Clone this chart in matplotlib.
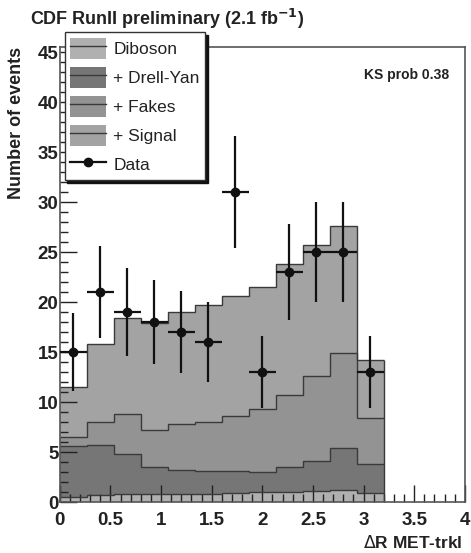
import numpy as np
import matplotlib
matplotlib.use("Agg")
import matplotlib.pyplot as plt
from matplotlib.patches import Patch
from matplotlib.lines import Line2D
from matplotlib.ticker import MultipleLocator

plt.rcParams['font.family'] = ['Liberation Sans', 'DejaVu Sans']

# 12 bins of dR(MET, track), width 4/15
bin_edges = np.linspace(0, 3.2, 13)
bin_centers = 0.5 * (bin_edges[:-1] + bin_edges[1:])

# per-component contributions
diboson  = [0.5, 0.7, 0.8, 0.8, 0.8, 0.8, 0.9, 1.0, 1.0, 1.1, 1.2, 0.9]
drellyan = [5.1, 5.0, 4.0, 2.7, 2.4, 2.3, 2.2, 2.0, 2.5, 3.0, 4.2, 2.9]
fakes    = [0.9, 2.3, 4.0, 3.7, 4.6, 4.9, 5.5, 6.3, 7.2, 8.5, 9.5, 4.6]
signal   = [5.0, 7.8, 9.6, 10.7, 11.2, 11.7, 12.0, 12.2, 13.1, 13.1, 12.7, 5.8]

data     = [15, 21, 19, 18, 17, 16, 31, 13, 23, 25, 25, 13]
data_err = [3.9, 4.6, 4.4, 4.2, 4.1, 4.0, 5.6, 3.6, 4.8, 5.0, 5.0, 3.6]

labels = ["Diboson", "+ Drell-Yan", "+ Fakes", "+ Signal"]
colors = ["#b0b0b0", "#767676", "#939393", "#a3a3a3"]
EDGE = "#3a3a3a"

fig = plt.figure(figsize=(4.71, 5.53), dpi=100)
ax = fig.add_axes([0.127, 0.092, 0.860, 0.823])

components = [diboson, drellyan, fakes, signal]
bottom = np.zeros(len(bin_centers))
for comp, col in zip(components, colors):
    top = bottom + np.array(comp)
    ax.stairs(top, bin_edges, baseline=bottom, fill=True, color=col, zorder=1)
    bottom = top
# outlines drawn on top of the fills
bottom = np.zeros(len(bin_centers))
for comp in components:
    top = bottom + np.array(comp)
    ax.stairs(top, bin_edges, baseline=None, color=EDGE, lw=1.0, zorder=2)
    bottom = top
ax.vlines([bin_edges[-1]], 0, bottom[-1], color=EDGE, lw=1.0, zorder=2)

half_w = (bin_edges[1] - bin_edges[0]) / 2
ax.errorbar(bin_centers, data, yerr=data_err, xerr=half_w, fmt='o', color='#111111',
            ms=6, elinewidth=1.6, capsize=0, zorder=4)

ax.set_xlim(0, 4)
ax.set_ylim(0, 45.5)
ax.xaxis.set_major_locator(MultipleLocator(0.5))
ax.xaxis.set_minor_locator(MultipleLocator(0.1))
ax.yaxis.set_major_locator(MultipleLocator(5))
ax.yaxis.set_minor_locator(MultipleLocator(1))
ax.tick_params(which='both', direction='in', colors='#222222', labelcolor='#222222',
               labelsize=13.5, width=1)
ax.tick_params(which='major', length=12)
ax.tick_params(which='minor', length=6)
ax.set_xticks([0, 0.5, 1, 1.5, 2, 2.5, 3, 3.5, 4])
ax.set_xticklabels(["0", "0.5", "1", "1.5", "2", "2.5", "3", "3.5", "4"])
for lbl in ax.get_xticklabels() + ax.get_yticklabels():
    lbl.set_fontweight('bold')
ax.tick_params(axis='y', pad=1)
ax.tick_params(axis='x', pad=7)
for sp in ax.spines.values():
    sp.set_color('#555555')
    sp.set_linewidth(1.2)

ax.set_ylabel("Number of events", fontsize=13, fontweight='bold', color='#222222')
ax.yaxis.set_label_coords(-0.085, 1.0)
ax.yaxis.label.set_ha('right')
ax.set_xlabel(r"$\Delta$R MET-trkl", fontsize=12.5, fontweight='bold', color='#222222')
ax.xaxis.set_label_coords(0.995, -0.07)
ax.xaxis.label.set_ha('right')

fig.text(0.063, 0.965, r"CDF RunII preliminary (2.1 fb$^{\mathbf{-1}}$)", fontsize=13,
         fontweight='bold', color='#222222', va='center')
ax.text(0.96, 0.938, "KS prob 0.38", transform=ax.transAxes, ha='right', va='center',
        fontsize=10, fontweight='bold', color='#222222')

handles = [(Patch(facecolor=c, edgecolor='none'), Line2D([], [], color=EDGE, lw=1)) for c in colors]
handles.append(Line2D([], [], color='#111111', marker='o', ms=6, lw=1.6))
leg = ax.legend(handles, labels + ["Data"], loc='upper left', bbox_to_anchor=(0.012, 1.032),
                fontsize=12.5, frameon=True, fancybox=False, shadow={'color': '#111111', 'alpha': 1},
                handlelength=2.1, handleheight=1.5, labelspacing=0.45, borderpad=0.3,
                handletextpad=0.4, borderaxespad=0)
leg.get_frame().set_edgecolor('#333333')
leg.get_frame().set_linewidth(1.0)
for t in leg.get_texts():
    t.set_color('#222222')
leg.set_zorder(6)

fig.savefig("out.png", dpi=100)
